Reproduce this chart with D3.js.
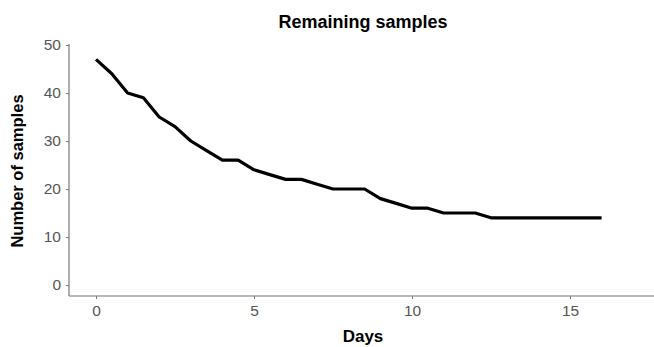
<!DOCTYPE html>
<html><head><meta charset="utf-8">
<script src="https://cdn.jsdelivr.net/npm/d3@7"></script>
<style>body{margin:0;background:#fff}svg{display:block}</style>
</head><body>
<svg id="c" width="654" height="347"></svg>
<script>
const days = [0,0.5,1,1.5,2,2.5,3,3.5,4,4.5,5,5.5,6,6.5,7,7.5,8,8.5,9,9.5,10,10.5,11,11.5,12,12.5,13,13.5,14,14.5,15,15.5,16];
const samples = [47,44,40,39,35,33,30,28,26,26,24,23,22,22,21,20,20,20,18,17,16,16,15,15,15,14,14,14,14,14,14,14,14];
const xTicks = [0,5,10,15];
const yTicks = [0,10,20,30,40,50];

const svg = d3.select("#c");
const font = "'Liberation Sans', Arial, sans-serif";
const x = d3.scaleLinear().domain([0,15]).range([96,570]);
const y = d3.scaleLinear().domain([0,50]).range([285,45]);
const axisX0 = 69, axisY0 = 296;

// axes lines
svg.append("line").attr("x1",axisX0).attr("x2",axisX0).attr("y1",y(50)-1).attr("y2",axisY0)
  .attr("stroke","#777").attr("stroke-width",1.2);
svg.append("line").attr("x1",axisX0).attr("x2",654).attr("y1",axisY0).attr("y2",axisY0)
  .attr("stroke","#777").attr("stroke-width",1.2);

const gy = svg.append("g").attr("transform",`translate(${axisX0},0)`)
  .call(d3.axisLeft(y).tickValues(yTicks).tickSize(3).tickPadding(5));
const gx = svg.append("g").attr("transform",`translate(0,${axisY0})`)
  .call(d3.axisBottom(x).tickValues(xTicks).tickSize(3).tickPadding(6));
[gx,gy].forEach(g=>{
  g.select(".domain").remove();
  g.selectAll(".tick line").attr("stroke","#777");
  g.selectAll(".tick text").attr("fill","#555").style("font-family",font).style("font-size","15.5px");
});

const line = d3.line().x((d,i)=>x(days[i])).y(d=>y(d));
svg.append("path").datum(samples).attr("d",line).attr("fill","none")
  .attr("stroke","#000").attr("stroke-width",3.2).attr("stroke-linejoin","round");

svg.append("text").attr("x",363).attr("y",28).attr("text-anchor","middle")
  .style("font-family",font).style("font-weight","bold").style("font-size","18px").text("Remaining samples");
svg.append("text").attr("x",363).attr("y",342).attr("text-anchor","middle")
  .style("font-family",font).style("font-weight","bold").style("font-size","17px").text("Days");
svg.append("text").attr("transform","translate(23,171) rotate(-90)").attr("text-anchor","middle")
  .style("font-family",font).style("font-weight","bold").style("font-size","16.5px").text("Number of samples");
</script>
</body></html>
